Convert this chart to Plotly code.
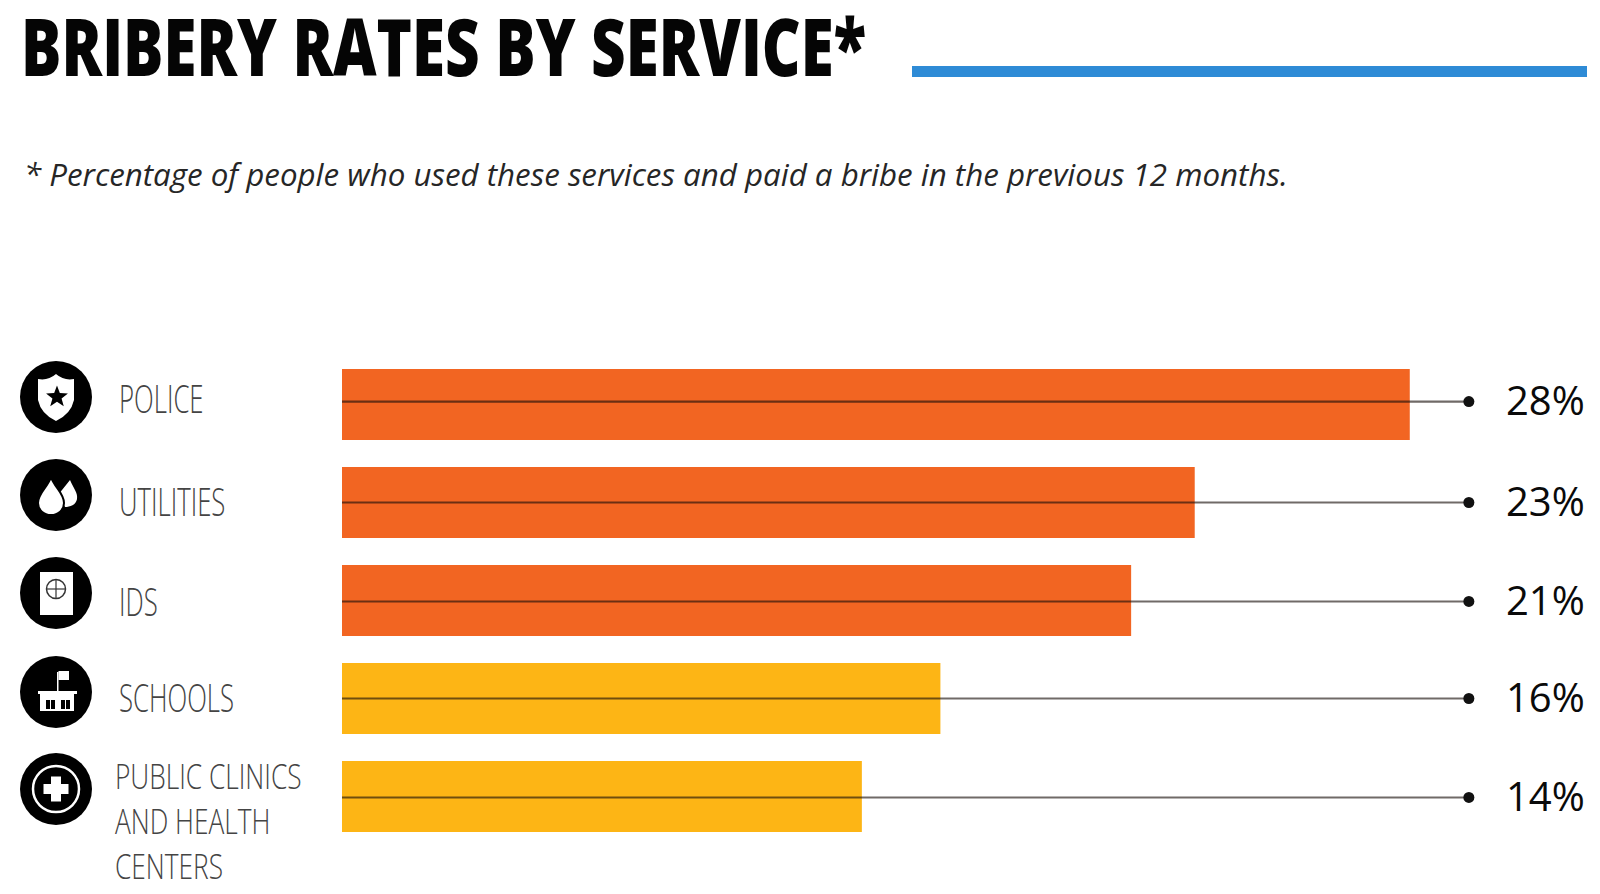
"""
Bribery rates by service, horizontal bars with leader lines and icons.
"""

import numpy as np
import plotly.graph_objects as go

# Data
services = ["POLICE", "UTILITIES", "IDS", "SCHOOLS"]
last_service = "PUBLIC CLINICS<br>AND HEALTH<br>CENTERS"
printed_pct = [28, 23, 21, 16, 14]
# the drawn bars are not quite to scale with the printed numbers
bar_lengths = [28.55, 22.8, 21.1, 16.0, 13.9]
leader_end = 30.13

# Canvas
W, H = 1600, 894
PX_PER_PCT = 37.4
BAR_LEFT = 342
ROW_STEP = 98
FIRST_ROW = 404.5

ORANGE = "#F26522"
YELLOW = "#FDB515"
BLUE = "#2E8BD6"
bar_colors = [ORANGE, ORANGE, ORANGE, YELLOW, YELLOW]
rows = list(range(len(printed_pct)))
line_nudge = [-0.03, 0, 0.01, 0, 0.01]
icon_y = [397, 495, 593, 692, 789]
label_y = [397, 500, 600, 696]
last_label_y = 820

TITLE = "BRIBERY RATES BY SERVICE*"

# No condensed face is installed, so the condensed texts are squeezed after drawing
SQUEEZE = """
document.body.style.margin = '0';
document.querySelectorAll('.annotation-text').forEach(function (t) {
  var s = t.getAttribute('data-unformatted') || '';
  var k = s.indexOf('BRIBERY') >= 0 ? 'title' : (/^[A-Z <br>]+$/.test(s) ? 'label' : null);
  if (!k) return;
  var b = t.getBBox();
  var f = k === 'title' ? 845 / b.width : (s.indexOf('<br>') >= 0 ? 0.762 : 0.66);
  t.setAttribute('transform', 'translate(' + b.x + ',0) scale(' + f + ',1) translate(' + (-b.x) + ',0)');
});
"""


def px(x):
    return x / W


def py(y):
    return 1 - y / H


def path(points, close=True):
    d = "M" + " L".join(f"{px(x):.5f},{py(y):.5f}" for x, y in points)
    return d + (" Z" if close else "")


def curve(cx, cy, cmds):
    # cmds: list of (letter, [x, y, ...]) relative to the icon centre
    out = []
    for letter, vals in cmds:
        nums = []
        for i in range(0, len(vals), 2):
            nums.append(f"{px(cx + vals[i]):.5f},{py(cy + vals[i + 1]):.5f}")
        out.append(letter + " ".join(nums))
    return " ".join(out) + " Z"


def disc(cx, cy, r, fill="white", line=None, width=0):
    return dict(
        type="circle", xref="paper", yref="paper",
        x0=px(cx - r), x1=px(cx + r), y0=py(cy + r), y1=py(cy - r),
        fillcolor=fill, line=dict(color=line or "rgba(0,0,0,0)", width=width),
    )


def block(cx, cy, x0, y0, x1, y1, fill="white"):
    return dict(
        type="rect", xref="paper", yref="paper",
        x0=px(cx + x0), x1=px(cx + x1), y0=py(cy + y1), y1=py(cy + y0),
        fillcolor=fill, line=dict(width=0),
    )


def free(d, fill="white", line=None, width=0):
    return dict(
        type="path", xref="paper", yref="paper", path=d,
        fillcolor=fill, line=dict(color=line or "rgba(0,0,0,0)", width=width),
    )


def police_icon(cx, cy):
    shield = [
        ("M", [-18, -18]), ("Q", [-8, -16, 0, -23]), ("Q", [8, -16, 18, -18]),
        ("L", [18, 3]), ("Q", [15, 17, 0, 24]), ("Q", [-15, 17, -18, 3]),
    ]
    ang = np.deg2rad(np.arange(10) * 36 - 90)
    rad = np.where(np.arange(10) % 2 == 0, 11.5, 4.8)
    star = [(cx + 1 + r * np.cos(a), cy + r * np.sin(a)) for r, a in zip(rad, ang)]
    return [free(curve(cx, cy, shield)), free(path(star), fill="black")]


def drops_icon(cx, cy):
    small = [("M", [14, -15]), ("C", [18, -6, 22, -2, 21, 4]), ("C", [20, 10, 14, 12, 9, 12]), ("L", [2, 0])]
    big = [("M", [-5, -18]), ("C", [-2, -8, 8, -2, 8, 8]), ("C", [8, 15, 2, 20, -5, 20]),
           ("C", [-12, 20, -18, 15, -18, 8]), ("C", [-18, -2, -8, -8, -5, -18])]
    return [free(curve(cx, cy, small)), free(curve(cx, cy, big), line="black", width=2)]


def passport_icon(cx, cy):
    shapes = [block(cx, cy, -16, -21, 17, 22)]
    shapes.append(disc(cx, cy - 4, 9.5, fill="white", line="#333", width=1.5))
    shapes.append(block(cx, cy, -9, -4.6, 9, -3.4, fill="#333"))
    shapes.append(block(cx, cy, -0.6, -13, 0.6, 5, fill="#333"))
    return shapes


def school_icon(cx, cy):
    shapes = [
        block(cx, cy, 1, -20, 2.5, -1),
        block(cx, cy, 2.5, -21, 13, -12),
        block(cx, cy, -18, -1, 21, 2),
        block(cx, cy, -16, 2, 18, 19),
    ]
    for x0, x1 in [(-10, -6), (-5, -1), (5, 9), (10, 14)]:
        shapes.append(block(cx, cy, x0, 8, x1, 17, fill="black"))
    return shapes


def clinic_icon(cx, cy):
    shapes = [disc(cx, cy, 23, fill="black", line="white", width=2.5)]
    shapes.append(block(cx, cy, -12.5, -5, 12.5, 5))
    shapes.append(block(cx, cy, -5, -12.5, 5, 12.5))
    return shapes


fig = go.Figure()

fig.add_trace(
    go.Bar(
        x=bar_lengths,
        y=rows,
        orientation="h",
        width=71 / ROW_STEP,
        marker=dict(color=bar_colors, line=dict(width=0)),
        showlegend=False,
    )
)

# Leader lines run from the axis through the bar to a dot at the far end
for row, nudge in zip(rows, line_nudge):
    fig.add_trace(
        go.Scatter(
            x=[0, leader_end],
            y=[row + nudge, row + nudge],
            mode="lines",
            line=dict(color="rgba(25,15,10,0.62)", width=2.2),
            showlegend=False,
        )
    )
fig.add_trace(
    go.Scatter(
        x=[leader_end] * len(rows),
        y=[r + n for r, n in zip(rows, line_nudge)],
        mode="markers",
        marker=dict(color="#111111", size=11),
        showlegend=False,
    )
)

# Icons
shapes = [
    dict(type="rect", xref="paper", yref="paper", x0=px(912), x1=px(1587), y0=py(77), y1=py(66),
         fillcolor=BLUE, line=dict(width=0)),
]
for cy in icon_y:
    shapes.append(disc(56, cy, 36, fill="black"))
shapes += police_icon(56, icon_y[0])
shapes += drops_icon(56, icon_y[1])
shapes += passport_icon(56, icon_y[2])
shapes += school_icon(56, icon_y[3])
shapes += clinic_icon(56, icon_y[4])

# Texts
annotations = [
    dict(text=TITLE, x=px(19), y=py(45), xanchor="left", yanchor="middle",
         font=dict(family="Open Sans", size=80, weight=800, color="#050505")),
    dict(text="* Percentage of people who used these services and paid a bribe in the previous 12 months.",
         x=px(22), y=py(174), xanchor="left", yanchor="middle",
         font=dict(family="Open Sans", size=31.3, style="italic", color="#262626")),
]
for name, y in zip(services, label_y):
    annotations.append(
        dict(text=name, x=px(117), y=py(y), xanchor="left", yanchor="middle",
             font=dict(family="Open Sans", size=39, weight=300, color="#444444"))
    )
annotations.append(
    dict(text=last_service, x=px(113), y=py(last_label_y), xanchor="left", yanchor="middle", align="left",
         font=dict(family="Open Sans", size=34.5, weight=300, color="#444444"))
)
for row, nudge, pct in zip(rows, line_nudge, printed_pct):
    annotations.append(
        dict(text=f"{pct}%", x=px(1587), y=py(FIRST_ROW + (row + nudge) * ROW_STEP - 2), xanchor="right", yanchor="middle",
             font=dict(family="Open Sans", size=40, weight=500, color="#0a0a0a"))
    )
for a in annotations:
    a.update(xref="paper", yref="paper", showarrow=False)

fig.update_layout(
    width=W,
    height=H,
    margin=dict(l=0, r=0, t=0, b=0),
    paper_bgcolor="white",
    plot_bgcolor="white",
    showlegend=False,
    shapes=shapes,
    annotations=annotations,
    xaxis=dict(visible=False, range=[-BAR_LEFT / PX_PER_PCT, (W - BAR_LEFT) / PX_PER_PCT]),
    yaxis=dict(visible=False, range=[(H - FIRST_ROW) / ROW_STEP, -FIRST_ROW / ROW_STEP]),
)

fig.write_html("out.html", post_script=SQUEEZE, config={"displayModeBar": False})
